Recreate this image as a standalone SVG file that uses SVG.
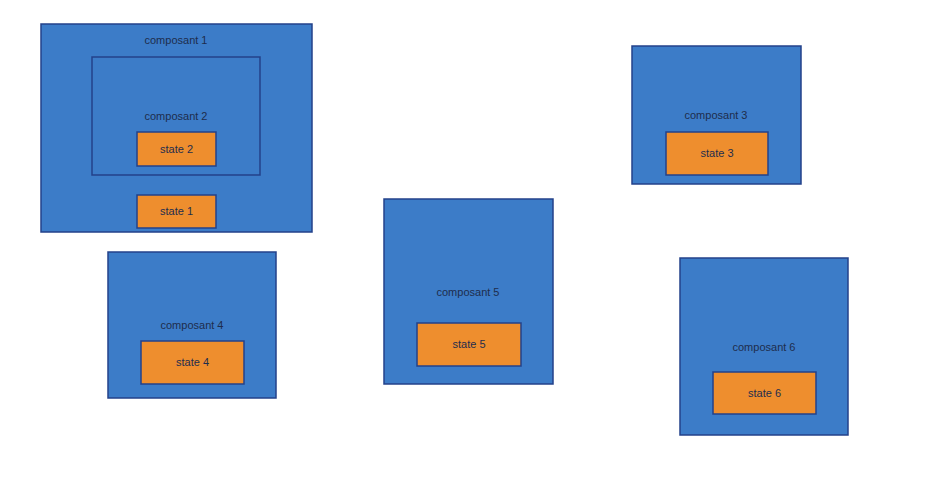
<svg xmlns="http://www.w3.org/2000/svg" width="931" height="492" viewBox="0 0 931 492">
<style>
.comp{fill:#3c7cc8;stroke:#23418a;stroke-width:1.5}
.inner{fill:none;stroke:#23418a;stroke-width:1.5}
.state{fill:#ee8e2e;stroke:#23418a;stroke-width:1.5}
text{font-family:"Liberation Sans",Arial,sans-serif;font-size:11px;text-anchor:middle;fill:#1e2d4d}
</style>
<rect width="931" height="492" fill="#ffffff"/>
<g id="composant1">
<rect class="comp" x="41" y="24" width="271" height="208"/>
<text x="176" y="44">composant 1</text>
</g>
<g id="composant2">
<rect class="inner" x="92" y="57" width="168" height="118"/>
<text x="176" y="120">composant 2</text>
</g>
<g id="state2">
<rect class="state" x="137" y="132" width="79" height="34"/>
<text x="176.5" y="153">state 2</text>
</g>
<g id="state1">
<rect class="state" x="137" y="195" width="79" height="33"/>
<text x="176.5" y="215">state 1</text>
</g>
<g id="composant4">
<rect class="comp" x="108" y="252" width="168" height="146"/>
<text x="192" y="329">composant 4</text>
</g>
<g id="state4">
<rect class="state" x="141" y="341" width="103" height="43"/>
<text x="192.5" y="366">state 4</text>
</g>
<g id="composant5">
<rect class="comp" x="384" y="199" width="169" height="185"/>
<text x="468" y="296">composant 5</text>
</g>
<g id="state5">
<rect class="state" x="417" y="323" width="104" height="43"/>
<text x="469" y="348">state 5</text>
</g>
<g id="composant3">
<rect class="comp" x="632" y="46" width="169" height="138"/>
<text x="716" y="119">composant 3</text>
</g>
<g id="state3">
<rect class="state" x="666" y="132" width="102" height="43"/>
<text x="717" y="157">state 3</text>
</g>
<g id="composant6">
<rect class="comp" x="680" y="258" width="168" height="177"/>
<text x="764" y="351">composant 6</text>
</g>
<g id="state6">
<rect class="state" x="713" y="372" width="103" height="42"/>
<text x="764.5" y="397">state 6</text>
</g>
<g id="connectors"></g>
</svg>
